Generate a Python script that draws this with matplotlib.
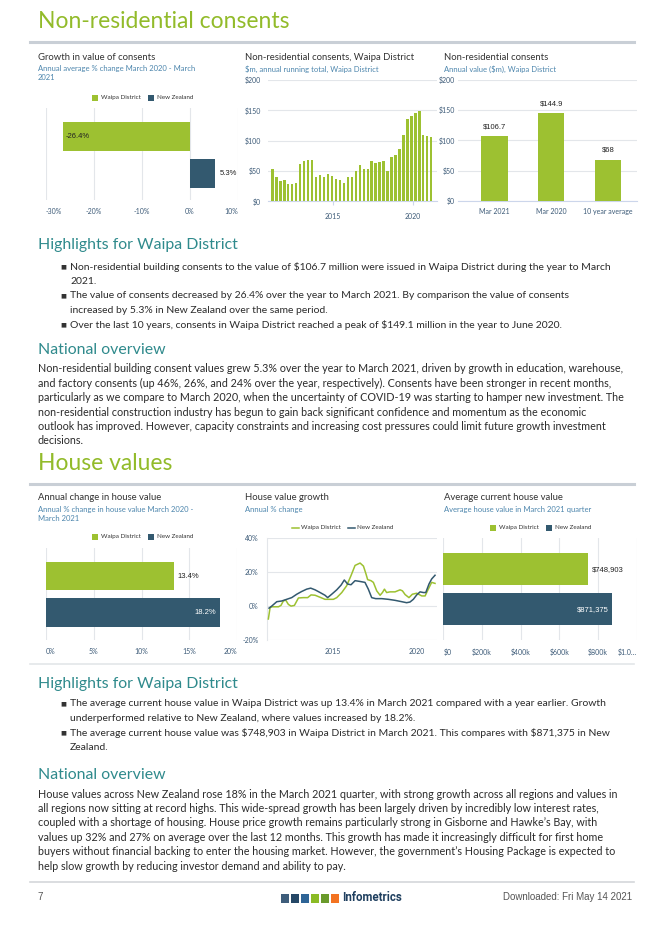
import matplotlib
matplotlib.use("Agg")
import matplotlib.pyplot as plt
from matplotlib.patches import Rectangle
from matplotlib.lines import Line2D
from matplotlib import font_manager
import pandas as pd

# ---------------- data ----------------
areas = ["Waipa District", "New Zealand"]
consent_growth = [-26.4, 5.3]

consent_quarters = pd.period_range("2011Q1", "2021Q1", freq="Q")
consent_values = [52.7, 41, 33, 35, 28.6, 28.6, 30, 62, 66, 69, 67.6, 40, 43, 41,
                  45, 42, 37, 36, 31, 41, 41, 51, 60, 54, 53, 67, 63, 65, 66, 50,
                  72.5, 76, 87, 109, 135, 140, 144.9, 149.1, 109, 107.5, 106.7]

summary_labels = ["Mar 2021", "Mar 2020", "10 year average"]
summary_values = [106.7, 144.9, 68]

house_change = [13.4, 18.2]
house_value = [748903, 871375]

waipa_years = [2011.17, 2011.27, 2011.37, 2011.57, 2011.77, 2011.92, 2012.06, 2012.20,
               2012.36, 2012.52, 2012.72, 2012.96, 2013.25, 2013.51, 2013.71, 2013.95,
               2014.25, 2014.54, 2014.84, 2015.04, 2015.24, 2015.54, 2015.83, 2016.09,
               2016.33, 2016.63, 2016.83, 2016.98, 2017.08, 2017.28, 2017.42, 2017.62,
               2017.82, 2017.96, 2018.08, 2018.21, 2018.41, 2018.71, 2019.01, 2019.15,
               2019.31, 2019.54, 2019.74, 2020.00, 2020.30, 2020.50, 2020.69, 2020.89,
               2021.09]
waipa_growth = [-7.6, -1.0, -0.4, -0.4, -0.4, 0.4, 3.0, 3.6, 1.0, 0.0, 0.4, 4.8, 5.0,
                5.0, 6.6, 6.4, 5.2, 4.0, 4.0, 4.0, 5.0, 8.0, 12.0, 18.0, 24.0, 25.4,
                23.6, 19.0, 15.6, 15.0, 14.0, 9.0, 6.4, 8.0, 10.0, 8.0, 8.4, 8.4, 9.6,
                9.0, 6.8, 5.0, 7.0, 7.6, 6.0, 6.0, 10.0, 14.0, 13.4]

nz_years = [2011.21, 2011.37, 2011.67, 2011.96, 2012.26, 2012.56, 2012.86, 2013.15,
            2013.45, 2013.69, 2013.95, 2014.25, 2014.54, 2014.70, 2014.94, 2015.24,
            2015.50, 2015.69, 2015.89, 2016.09, 2016.33, 2016.59, 2016.92, 2017.12,
            2017.32, 2017.56, 2017.92, 2018.31, 2018.71, 2019.11, 2019.40, 2019.60,
            2019.80, 2020.00, 2020.20, 2020.40, 2020.54, 2020.73, 2020.89, 2021.09]
nz_growth = [-1.2, 0.0, 2.6, 3.0, 4.0, 5.0, 7.0, 8.6, 10.0, 10.6, 9.6, 8.0, 6.4, 5.0,
             7.0, 9.6, 12.4, 15.4, 13.0, 12.6, 15.0, 14.6, 14.0, 10.0, 5.0, 4.4, 4.4,
             4.0, 3.4, 2.6, 2.0, 2.4, 4.0, 6.6, 8.4, 8.0, 8.0, 13.0, 16.0, 18.2]

bullets_consents = [
    ["Non-residential building consents to the value of $106.7 million were issued in Waipa District during the year to March",
     "2021."],
    ["The value of consents decreased by 26.4% over the year to March 2021. By comparison the value of consents",
     "increased by 5.3% in New Zealand over the same period."],
    ["Over the last 10 years, consents in Waipa District reached a peak of $149.1 million in the year to June 2020."],
]
overview_consents = [
    "Non-residential building consent values grew 5.3% over the year to March 2021, driven by growth in education, warehouse,",
    "and factory consents (up 46%, 26%, and 24% over the year, respectively). Consents have been stronger in recent months,",
    "particularly as we compare to March 2020, when the uncertainty of COVID-19 was starting to hamper new investment. The",
    "non-residential construction industry has begun to gain back significant confidence and momentum as the economic",
    "outlook has improved. However, capacity constraints and increasing cost pressures could limit future growth investment",
    "decisions.",
]
bullets_house = [
    ["The average current house value in Waipa District was up 13.4% in March 2021 compared with a year earlier. Growth",
     "underperformed relative to New Zealand, where values increased by 18.2%."],
    ["The average current house value was $748,903 in Waipa District in March 2021. This compares with $871,375 in New",
     "Zealand."],
]
overview_house = [
    "House values across New Zealand rose 18% in the March 2021 quarter, with strong growth across all regions and values in",
    "all regions now sitting at record highs. This wide-spread growth has been largely driven by incredibly low interest rates,",
    "coupled with a shortage of housing. House price growth remains particularly strong in Gisborne and Hawke\u2019s Bay, with",
    "values up 32% and 27% on average over the last 12 months. This growth has made it increasingly difficult for first home",
    "buyers without financial backing to enter the housing market. However, the government\u2019s Housing Package is expected to",
    "help slow growth by reducing investor demand and ability to pay.",
]

# ---------------- style ----------------
GREEN = "#9dc131"
NAVY = "#33596f"
TITLE_GREEN = "#92bb2a"
TEAL = "#2f8a8c"
SUB = "#4d86ad"
TICK = "#3d5b78"
GRID = "#e3e6ea"
BODY = "#2b2b2b"
HEAD = "Lato"
names = {f.name for f in font_manager.fontManager.ttflist}
NARROW = "Liberation Sans Narrow" if "Liberation Sans Narrow" in names else "Roboto"

W, H = 668, 930
fig = plt.figure(figsize=(W / 100, H / 100), dpi=100)
fig.patch.set_facecolor("white")


def txt(x, y, s, **kw):
    kw.setdefault("va", "center")
    kw.setdefault("family", HEAD)
    return fig.text(x / W, 1 - y / H, s, parse_math=False, **kw)


def add_ax(x0, y0, x1, y1):
    return fig.add_axes([x0 / W, 1 - y1 / H, (x1 - x0) / W, (y1 - y0) / H])


def rect(x0, y0, w, h, color):
    fig.add_artist(Rectangle((x0 / W, 1 - (y0 + h) / H), w / W, h / H,
                             transform=fig.transFigure, color=color, lw=0))


def hline(x0, x1, y, color, lw):
    fig.add_artist(Line2D([x0 / W, x1 / W], [1 - y / H, 1 - y / H],
                          transform=fig.transFigure, color=color, lw=lw))


def clean(ax):
    for s in ax.spines.values():
        s.set_visible(False)
    ax.set_facecolor("none")
    ax.tick_params(length=0, labelsize=5, labelcolor=TICK)
    for lab in ax.get_xticklabels() + ax.get_yticklabels():
        lab.set_family(HEAD)


def edge_labels(ax):
    labs = ax.get_xticklabels()
    labs[0].set_horizontalalignment("left")
    labs[-1].set_horizontalalignment("right")


def panel_head(x, y, title, subs):
    txt(x, y, title, fontsize=6.8, color="#333333")
    for i, s in enumerate(subs):
        txt(x, y + 11.5 + 9 * i, s, fontsize=5.5, color=SUB)


def square_legend(x, y):
    rect(x, y - 3, 6, 6, GREEN)
    txt(x + 9, y, "Waipa District", fontsize=4.5, color="#333333")
    rect(x + 56, y - 3, 6, 6, NAVY)
    txt(x + 65, y, "New Zealand", fontsize=4.5, color="#333333")


def value_label(ax, x, y, s, dx, color):
    ax.annotate(s, (x, y), xytext=(dx, 0), textcoords="offset points", va="center",
                ha="left" if dx > 0 else "right", fontsize=5.5,
                family="Liberation Sans", color=color, zorder=5)


LEFT = 38

# ---------------- section 1: non-residential consents ----------------
txt(LEFT, 22, "Non-residential consents", fontsize=16.5, color=TITLE_GREEN)
hline(30, 634, 42, "#c9cfd6", 2.2)

# panel 1
panel_head(LEFT, 57.5, "Growth in value of consents",
           ["Annual average % change March 2020 - March", "2021"])
square_legend(92, 97.7)
ax1 = add_ax(46, 108.3, 238, 200)
ax1.barh([0, 1], consent_growth, height=0.78, color=[GREEN, NAVY], zorder=3)
ax1.set_xlim(-30, 10)
ax1.set_ylim(1.73, -0.776)
ax1.set_xticks([-30, -20, -10, 0, 10])
ax1.set_xticklabels([f"{v}%" for v in [-30, -20, -10, 0, 10]])
ax1.set_yticks([])
ax1.grid(axis="x", color=GRID, lw=0.8, zorder=0)
clean(ax1)
ax1.tick_params(axis="x", pad=6)
edge_labels(ax1)
ax1.text(consent_growth[0] + 0.4, 0, f"{consent_growth[0]}%", va="center", ha="left",
         fontsize=5.5, family="Liberation Sans", color="#222222", zorder=4)
value_label(ax1, consent_growth[1], 1, f"{consent_growth[1]}%", 3, "#222222")

# panel 2
panel_head(245, 57.5, "Non-residential consents, Waipa District",
           ["$m, annual running total, Waipa District"])
ax2 = add_ax(268, 80, 437, 201.5)
qx = [p.year + (p.quarter * 3 - 1) / 12 for p in consent_quarters]
ax2.bar(qx, consent_values, width=0.15, color=GREEN, zorder=3)
ax2.set_xlim(2010.888, 2021.53)
ax2.set_ylim(0, 200)
ax2.set_yticks([0, 50, 100, 150, 200])
ax2.set_yticklabels([f"${v}" for v in [0, 50, 100, 150, 200]])
ax2.set_xticks([2015, 2020])
ax2.set_xticklabels(["2015", "2020"])
ax2.grid(axis="y", color=GRID, lw=0.8, zorder=0)
clean(ax2)
ax2.spines["bottom"].set_visible(True)
ax2.spines["bottom"].set_color("#ccd6eb")
ax2.tick_params(axis="x", pad=5, length=3, color="#ccd6eb")
ax2.tick_params(axis="y", pad=5)

# panel 3
panel_head(444, 57.5, "Non-residential consents", ["Annual value ($m), Waipa District"])
ax3 = add_ax(458, 80, 637, 201)
ax3.bar(range(3), summary_values, width=0.46, color=GREEN, zorder=3)
for i, v in enumerate(summary_values):
    ax3.annotate(f"${v:g}", (i, v), xytext=(0, 4.5), textcoords="offset points",
                 ha="center", va="bottom", fontsize=5.5, family="Liberation Sans",
                 color="#222222")
ax3.set_xlim(-0.643, 2.507)
ax3.set_ylim(0, 200)
ax3.set_yticks([0, 50, 100, 150, 200])
ax3.set_yticklabels([f"${v}" for v in [0, 50, 100, 150, 200]])
ax3.set_xticks(range(3))
ax3.set_xticklabels(summary_labels)
ax3.grid(axis="y", color=GRID, lw=0.8, zorder=0)
clean(ax3)
ax3.spines["bottom"].set_visible(True)
ax3.spines["bottom"].set_color("#ccd6eb")
ax3.tick_params(axis="x", pad=5)
ax3.tick_params(axis="y", pad=2)


def text_block(y_head, bullets, para, y_bul, y_over, y_para):
    txt(LEFT, y_head, "Highlights for Waipa District", fontsize=11.4, color=TEAL)
    y = y_bul
    for b in bullets:
        txt(60, y, "\u25a0", fontsize=4.5, color="#333333", family="DejaVu Sans")
        for line in b:
            txt(70, y, line, fontsize=7.45, color=BODY)
            y += 14.4
    txt(LEFT, y_over, "National overview", fontsize=11.4, color=TEAL)
    for i, line in enumerate(para):
        txt(LEFT, y_para + 14.4 * i, line, fontsize=7.75, color=BODY)


text_block(245, bullets_consents, overview_consents, 267, 350, 369)

# ---------------- section 2: house values ----------------
txt(LEFT, 463, "House values", fontsize=16.5, color=TITLE_GREEN)
hline(30, 634, 484, "#c9cfd6", 2.2)

# panel 4
panel_head(LEFT, 497.7, "Annual change in house value",
           ["Annual % change in house value March 2020 -", "March 2021"])
square_legend(92, 536.7)
ax4 = add_ax(45.7, 548, 237.3, 640)
ax4.barh([0, 1], house_change, height=0.78, color=[GREEN, NAVY], zorder=3)
ax4.set_xlim(0, 20)
ax4.set_ylim(1.744, -0.763)
ax4.set_xticks([0, 5, 10, 15, 20])
ax4.set_xticklabels([f"{v}%" for v in [0, 5, 10, 15, 20]])
ax4.set_yticks([])
ax4.grid(axis="x", color=GRID, lw=0.8, zorder=0)
clean(ax4)
ax4.tick_params(axis="x", pad=6)
edge_labels(ax4)
value_label(ax4, house_change[0], 0, f"{house_change[0]}%", 2.5, "#222222")
value_label(ax4, house_change[1], 1, f"{house_change[1]}%", -2.5, "white")

# panel 5
panel_head(245, 497.7, "House value growth", ["Annual % change"])
for x0, c, name in zip([291.7, 348], [GREEN, NAVY], areas):
    hline(x0, x0 + 7, 527.7, c, 1.1)
    txt(x0 + 9, 527.7, name, fontsize=4.5, color="#333333")
ax5 = add_ax(266.7, 538.3, 437, 640)
ax5.plot(waipa_years, waipa_growth, color=GREEN, lw=1.1, zorder=3)
ax5.plot(nz_years, nz_growth, color=NAVY, lw=1.1, zorder=4)
ax5.set_xlim(2011.071, 2021.208)
ax5.set_ylim(-20, 40)
ax5.set_yticks([-20, 0, 20, 40])
ax5.set_yticklabels([f"{v}%" for v in [-20, 0, 20, 40]])
ax5.set_xticks([2015, 2020])
ax5.set_xticklabels(["2015", "2020"])
ax5.grid(axis="y", color=GRID, lw=0.8, zorder=0)
clean(ax5)
ax5.spines["left"].set_visible(True)
ax5.spines["left"].set_color(GRID)
ax5.tick_params(axis="x", pad=6)
ax5.tick_params(axis="y", pad=6)

# panel 6
panel_head(444, 497.7, "Average current house value",
           ["Average house value in March 2021 quarter"])
square_legend(490, 527.7)
ax6 = add_ax(443.3, 538.3, 636.7, 640)
ax6.barh([0, 1], house_value, height=0.79, color=[GREEN, NAVY], zorder=3)
ax6.set_xlim(0, 1000000)
ax6.set_ylim(1.77, -0.773)
ax6.set_xticks([0, 200000, 400000, 600000, 800000, 1000000])
ax6.set_xticklabels(["$0", "$200k", "$400k", "$600k", "$800k", "$1.0\u2026"])
ax6.set_yticks([])
ax6.grid(axis="x", color=GRID, lw=0.8, zorder=0)
clean(ax6)
ax6.tick_params(axis="x", pad=6)
edge_labels(ax6)
value_label(ax6, house_value[0], 0, f"${house_value[0]:,}", 2.5, "#222222")
value_label(ax6, house_value[1], 1, f"${house_value[1]:,}", -2.5, "white")

hline(30, 634, 664, "#e3e6e9", 1.2)

text_block(684, bullets_house, overview_house, 704, 775, 794)

# ---------------- footer ----------------
hline(30, 634, 882, "#d4d7da", 1.2)
txt(37, 897, "7", fontsize=7, color="#555555", family="Liberation Sans")
txt(632, 897, "Downloaded: Fri May 14 2021", fontsize=7, color="#555555",
    family="Liberation Sans", ha="right")
for i, c in enumerate(["#3e5d7b", "#254766", "#2e6496", "#8bbb25", "#6a9a2b", "#f37321"]):
    rect(281 + 10 * i, 894.3, 8.3, 8.3, c)
txt(342, 897.5, "Infometrics", fontsize=8.3, color="#1f3f5f", family=NARROW,
    weight="bold")

fig.savefig("out.png", dpi=100)
